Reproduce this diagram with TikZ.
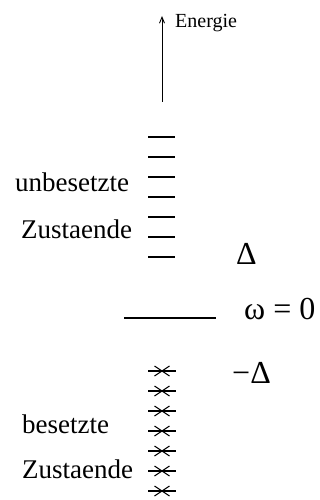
\documentclass[tikz,border=0pt]{standalone}
\usepackage{fontspec}
\setmainfont{Liberation Serif}
\usetikzlibrary{arrows.meta}
\begin{document}
\begin{tikzpicture}[x=1pt,y=-1pt,
  lbl/.style={anchor=base west,inner sep=0pt,font=\fontsize{27}{30}\selectfont},
  big/.style={anchor=base west,inner sep=0pt,font=\fontsize{32}{36}\selectfont},
  level/.style={line width=1.4pt},
  cross/.style={line width=1pt}]
\useasboundingbox (0,0) rectangle (320,500);
% energy axis
\coordinate (ebot) at (162,102);
\coordinate (etop) at (162,16);
\draw[line width=0.9pt,-{Straight Barb[length=6pt,width=5pt]}] (ebot) -- (etop);
\node[anchor=base west,inner sep=0pt,font=\fontsize{20}{24}\selectfont] (energie) at (175,28) {Energie};
% unoccupied levels
\foreach \k in {0,...,6} {
  \coordinate (u\k) at (161.5,137+20*\k);
  \draw[level] ([xshift=-13.5pt]u\k) -- ([xshift=13.5pt]u\k);
}
\node[lbl] (unbes) at (15,191) {unbesetzte};
\node[lbl] (zu1) at (21,238) {Zustaende};
\node[big] (delta) at (236,264) {Δ};
% zero line
\coordinate (z0) at (124,318);
\coordinate (z1) at (216,318);
\draw[level] (z0) -- (z1);
\node[big] (omega) at (244,319) {ω = 0};
\node[big] (mdelta) at (232,383) {−Δ};
% occupied levels
\foreach \k in {0,...,6} {
  \coordinate (c\k) at (162,371+20*\k);
  \draw[level] ([xshift=-14pt]c\k) -- ([xshift=14pt]c\k);
  \draw[cross] ([shift={(-7.5,-5)}]c\k) -- ([shift={(7.5,5)}]c\k);
  \draw[cross] ([shift={(-7.5,5)}]c\k) -- ([shift={(7.5,-5)}]c\k);
}
\node[lbl] (bes) at (22,433) {besetzte};
\node[lbl] (zu2) at (22,478) {Zustaende};
\end{tikzpicture}
\end{document}
